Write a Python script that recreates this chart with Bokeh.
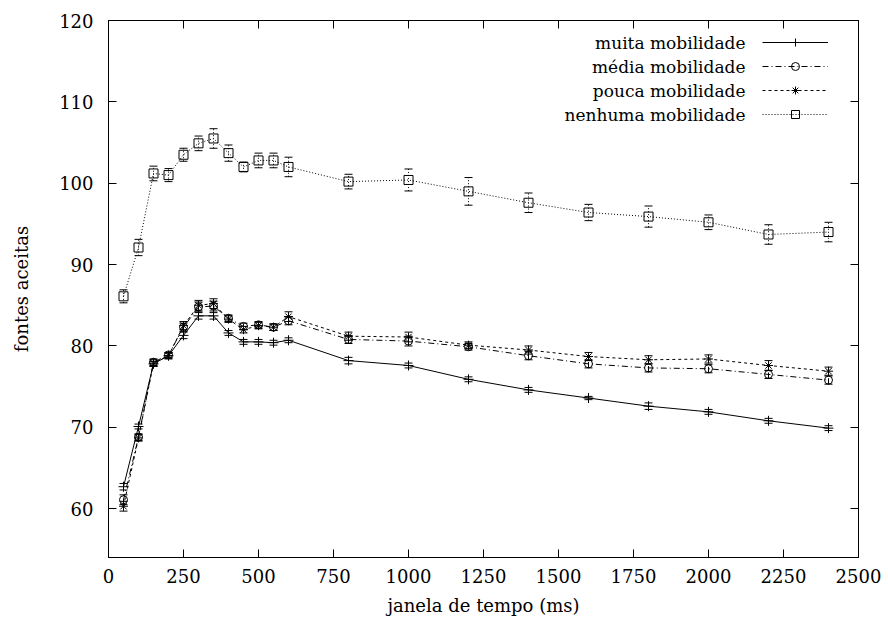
from bokeh.plotting import figure
from bokeh.models import Range1d, LinearAxis, FixedTicker, Legend, LegendItem, Label, ColumnDataSource
from bokeh.embed import file_html
from bokeh.resources import INLINE

# ---------------- data ----------------
x_ms = [50, 100, 150, 200, 250, 300, 350, 400, 450, 500, 550, 600,
        800, 1000, 1200, 1400, 1600, 1800, 2000, 2200, 2400]

muita = [62.7, 70.1, 77.8, 78.8, 81.3, 83.7, 83.7, 81.6, 80.5, 80.5, 80.4, 80.7,
         78.2, 77.6, 75.9, 74.6, 73.6, 72.6, 71.9, 70.8, 69.9]
muita_err = [0.4, 0.3, 0.3, 0.3, 0.4, 0.4, 0.4, 0.3, 0.3, 0.3, 0.3, 0.3,
             0.4, 0.3, 0.3, 0.3, 0.2, 0.4, 0.3, 0.3, 0.3]

media = [61.1, 68.8, 78.0, 78.9, 82.3, 84.8, 84.9, 83.4, 82.4, 82.6, 82.3, 83.1,
         80.8, 80.6, 79.9, 78.8, 77.8, 77.3, 77.2, 76.5, 75.8]
media_err = [0.6, 0.4, 0.4, 0.3, 0.5, 0.6, 0.6, 0.4, 0.4, 0.4, 0.4, 0.5,
             0.5, 0.6, 0.4, 0.5, 0.5, 0.5, 0.5, 0.5, 0.5]

pouca = [60.3, 68.7, 77.9, 78.8, 82.5, 85.0, 85.2, 83.3, 82.0, 82.5, 82.3, 83.6,
         81.2, 81.1, 80.1, 79.5, 78.7, 78.3, 78.4, 77.6, 76.9]
pouca_err = [0.6, 0.4, 0.4, 0.4, 0.5, 0.6, 0.6, 0.4, 0.4, 0.4, 0.4, 0.6,
             0.5, 0.6, 0.4, 0.5, 0.5, 0.5, 0.5, 0.6, 0.5]

nenhuma = [86.1, 92.1, 101.2, 101.0, 103.5, 104.9, 105.5, 103.7, 102.0, 102.8, 102.8, 102.0,
           100.2, 100.4, 99.0, 97.6, 96.4, 95.9, 95.2, 93.7, 94.0]
nenhuma_err = [0.8, 1.0, 0.9, 0.8, 0.8, 0.9, 1.2, 1.0, 0.6, 0.9, 0.9, 1.2,
               0.9, 1.35, 1.7, 1.2, 1.0, 1.3, 0.9, 1.2, 1.2]

labels = ["muita mobilidade", "média mobilidade", "pouca mobilidade", "nenhuma mobilidade"]
x_ticks = [0, 250, 500, 750, 1000, 1250, 1500, 1750, 2000, 2250, 2500]
y_ticks = [50, 60, 70, 80, 90, 100, 110, 120]

FONT = "DejaVu Serif"
FS = "18px"
LEG_FS = "17px"

p = figure(width=888, height=625, output_backend="svg", toolbar_location=None,
           x_range=Range1d(0, 2500), y_range=Range1d(54, 120),
           min_border_left=108, min_border_right=30, min_border_top=20, min_border_bottom=68)
p.xgrid.visible = False
p.ygrid.visible = False
p.outline_line_color = "black"
p.outline_line_width = 1
p.background_fill_color = "white"
p.border_fill_color = "white"

for ax, ticks in ((p.xaxis[0], x_ticks), (p.yaxis[0], y_ticks)):
    ax.ticker = FixedTicker(ticks=ticks)
    ax.major_tick_in = 8
    ax.major_tick_out = 0
    ax.minor_tick_line_color = None
    ax.axis_line_color = "black"
    ax.major_label_text_font = FONT
    ax.major_label_text_font_size = FS
    ax.major_label_text_color = "black"
    ax.axis_label_text_font = FONT
    ax.axis_label_text_font_size = FS
    ax.axis_label_text_font_style = "normal"
    ax.axis_label_text_color = "black"

p.xaxis[0].axis_label = "janela de tempo (ms)"
p.xaxis[0].major_label_standoff = 11
p.xaxis[0].axis_label_standoff = 9
p.yaxis[0].axis_label = "fontes aceitas"
p.yaxis[0].major_label_standoff = 15
p.yaxis[0].axis_label_standoff = 24

# mirrored ticks on top and right (no labels)
top = LinearAxis(ticker=FixedTicker(ticks=x_ticks), major_tick_in=8, major_tick_out=0,
                 minor_tick_line_color=None, major_label_text_font_size="0px",
                 major_label_text_color=None, major_label_standoff=0)
right = LinearAxis(ticker=FixedTicker(ticks=y_ticks), major_tick_in=8, major_tick_out=0,
                   minor_tick_line_color=None, major_label_text_font_size="0px",
                   major_label_text_color=None, major_label_standoff=0)
p.add_layout(top, "above")
p.add_layout(right, "right")

series = [
    (muita, muita_err, "cross", None, 10),
    (media, media_err, "circle", "6 3 1 3", 8),
    (pouca, pouca_err, "asterisk", "3 3", 9),
    (nenhuma, nenhuma_err, "square", "1 2", 9),
]

items = []
for (vals, errs, marker, dash, msize), lab in zip(series, labels):
    src = ColumnDataSource(dict(
        x=x_ms, y=vals,
        lo=[v - e for v, e in zip(vals, errs)],
        hi=[v + e for v, e in zip(vals, errs)],
    ))
    dash_kw = {} if dash is None else {"line_dash": dash}
    ln = p.line("x", "y", source=src, line_color="black", line_width=1, **dash_kw)
    p.segment(x0="x", y0="lo", x1="x", y1="hi", source=src, line_color="black",
              line_width=1, **dash_kw)
    p.scatter("x", "lo", source=src, marker="dash", size=8, line_color="black", line_width=1)
    p.scatter("x", "hi", source=src, marker="dash", size=8, line_color="black", line_width=1)
    sc = p.scatter("x", "y", source=src, marker=marker, size=msize, line_color="black",
                   fill_color=None, line_width=1)
    items.append(LegendItem(label=" ", renderers=[ln, sc]))

legend = Legend(items=items, location=(654, 433), orientation="vertical",
                glyph_width=66, glyph_height=20, label_height=20, label_width=0,
                spacing=4, padding=0, margin=0, label_standoff=0,
                label_text_font_size="1px", label_text_color=None,
                border_line_color=None, background_fill_alpha=0)
p.add_layout(legend)

for i, lab in enumerate(labels):
    p.add_layout(Label(x=637, y=515 - 24 * i, x_units="screen", y_units="screen",
                       text=lab, text_align="right", text_baseline="middle",
                       text_font=FONT, text_font_size=LEG_FS, text_color="black"))

open("out.html", "w").write(file_html(p, INLINE))
